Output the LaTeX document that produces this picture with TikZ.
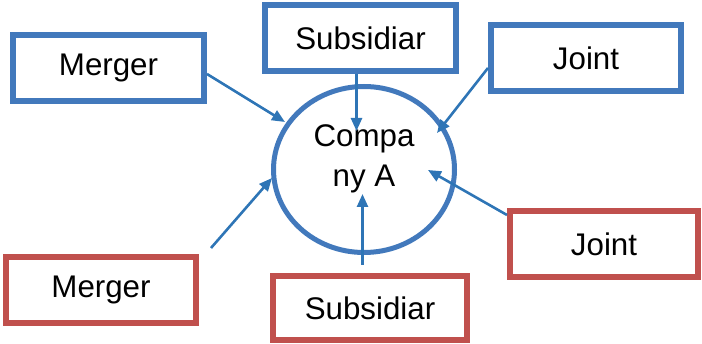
\documentclass[tikz,border=0pt]{standalone}
\usepackage{fontspec}
\setmainfont{Liberation Sans}
\usetikzlibrary{arrows.meta,shapes.geometric}
\definecolor{bbox}{HTML}{4279BC}
\definecolor{barrow}{HTML}{2E75B6}
\definecolor{rbox}{HTML}{C0504D}
\begin{document}
\begin{tikzpicture}[x=1pt,y=-1pt,
  lbl/.style={font=\fontsize{31.3}{40}\selectfont},
  box/.style={draw, line width=6pt, rectangle, minimum width=191pt, minimum height=66pt, inner sep=0pt, lbl},
  bluebox/.style={box, draw=bbox},
  redbox/.style={box, draw=rbox},
  conn/.style={draw=barrow, line width=2.6pt, -{Triangle[length=13pt,width=11pt]}}]
\useasboundingbox (0,0) rectangle (702,344);

\node[bluebox] (bm) at (108.5,68) {Merger};
\node[bluebox] (bs) at (360.5,38) {Subsidiar};
\node[bluebox, minimum width=190pt] (bj) at (586,58) {Joint};
\node[redbox, minimum width=190pt] (rm) at (101,290) {Merger};
\node[redbox, minimum width=194pt, minimum height=64pt] (rs) at (370,308) {Subsidiar};
\node[redbox, minimum width=188pt] (rj) at (604,244) {Joint};

\node[draw=bbox, line width=5pt, ellipse, minimum width=181pt, minimum height=166pt, inner sep=0pt] (c) at (364,169.5) {};
\node[lbl, align=center, inner sep=0pt] (ct) at (364,159) {Compa\\ny A};

\coordinate (t1) at (285,122);
\coordinate (t2) at (356.5,131);
\coordinate (t3) at (437,133);
\coordinate (s4) at (211,248);
\coordinate (t4) at (272,178);
\coordinate (s5) at (362.5,265);
\coordinate (t5) at (362.5,194);
\coordinate (t6) at (428,170);

\draw[conn] ([yshift=-6pt]bm.east) -- (t1);
\draw[conn] (bs.south -| t2) -- (t2);
\draw[conn] ([yshift=-10pt]bj.west) -- (t3);
\draw[conn] (s4) -- (t4);
\draw[conn] (s5) -- (t5);
\draw[conn] ([yshift=29pt]rj.west) -- (t6);
\end{tikzpicture}
\end{document}
